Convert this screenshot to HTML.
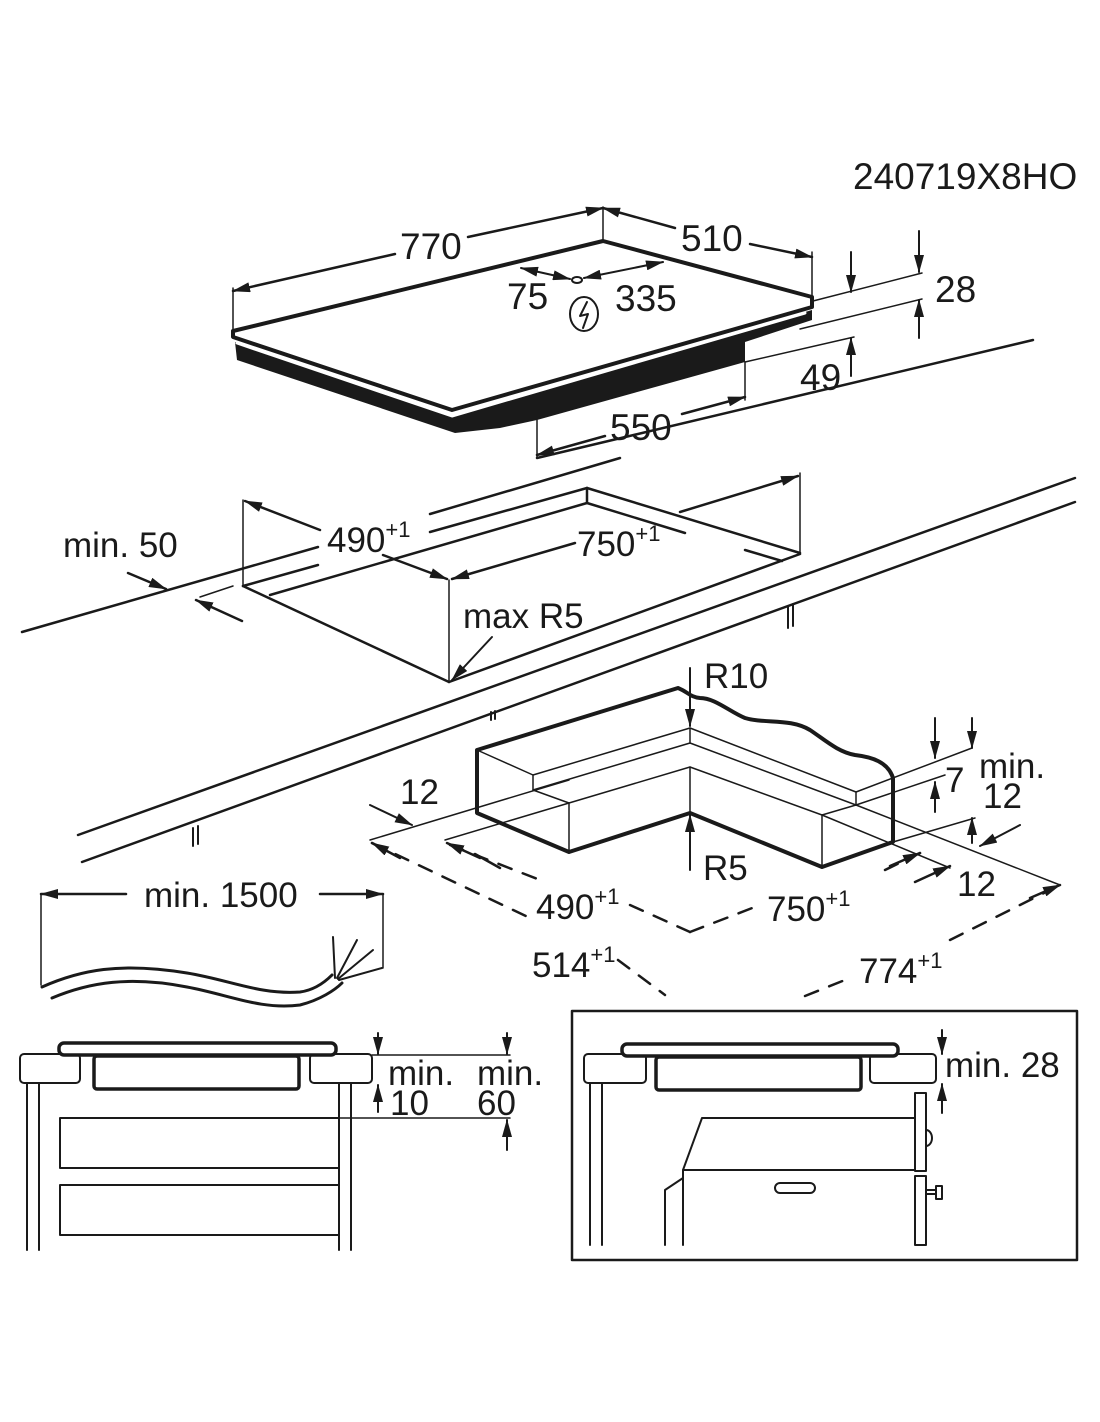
<!DOCTYPE html>
<html><head><meta charset="utf-8"><style>
html,body{margin:0;padding:0;background:#fff;}
svg{display:block;}
text{font-family:"Liberation Sans",sans-serif;fill:#1a1a1a;}
</style></head><body>
<svg width="1100" height="1422" viewBox="0 0 1100 1422" xmlns="http://www.w3.org/2000/svg">
<defs>
<marker id="a" viewBox="0 0 18 10" refX="17" refY="5" markerWidth="18" markerHeight="10" markerUnits="userSpaceOnUse" orient="auto-start-reverse"><path d="M0,0 L18,5 L0,10 z" fill="#1a1a1a"/></marker>
</defs>
<g stroke="#1a1a1a" fill="none" stroke-linecap="round" stroke-linejoin="round">

<polygon points="235,342 452,416 812,310 812,320 745,342 745,362 537,420 500,428 455,433 237,360" fill="#1a1a1a" stroke="none"/>
<polyline points="237,343 452,416 805,313" stroke="#fff" stroke-width="3"/>
<polygon points="603,241 812,297 812,307 452,410 233,337 233,331" fill="#fff" stroke-width="4"/>
<line x1="233" y1="333" x2="233" y2="288" stroke-width="1.5"/>
<line x1="603" y1="241" x2="603" y2="207" stroke-width="1.5"/>
<line x1="812" y1="297" x2="812" y2="252" stroke-width="1.5"/>
<line x1="233" y1="291" x2="395" y2="254" stroke-width="2.5" marker-start="url(#a)"/>
<line x1="468" y1="237" x2="603" y2="208" stroke-width="2.5" marker-end="url(#a)"/>
<line x1="603" y1="208" x2="675" y2="228" stroke-width="2.5" marker-start="url(#a)"/>
<line x1="750" y1="244" x2="812" y2="257" stroke-width="2.5" marker-end="url(#a)"/>
<ellipse cx="577" cy="280" rx="5" ry="3" stroke-width="2"/>
<line x1="521" y1="268" x2="570" y2="279" stroke-width="2" marker-start="url(#a)" marker-end="url(#a)"/>
<line x1="584" y1="278" x2="663" y2="262" stroke-width="2" marker-start="url(#a)" marker-end="url(#a)"/>
<ellipse cx="584" cy="314" rx="14" ry="17" stroke-width="2"/>
<polyline points="587,302 580,316 588,314 583,328" stroke-width="2"/>
<line x1="813" y1="301" x2="922" y2="273" stroke-width="1.5"/>
<line x1="800" y1="329" x2="922" y2="299" stroke-width="1.5"/>
<line x1="745" y1="362" x2="854" y2="337" stroke-width="1.5"/>
<line x1="851" y1="252" x2="851" y2="292" stroke-width="2" marker-end="url(#a)"/>
<line x1="919" y1="231" x2="919" y2="272" stroke-width="2" marker-end="url(#a)"/>
<line x1="919" y1="338" x2="919" y2="300" stroke-width="2" marker-end="url(#a)"/>
<line x1="851" y1="376" x2="851" y2="338" stroke-width="2" marker-end="url(#a)"/>
<line x1="537" y1="458" x2="1033" y2="340" stroke-width="2.5"/>
<line x1="537" y1="420" x2="537" y2="458" stroke-width="1.5"/>
<line x1="745" y1="362" x2="745" y2="400" stroke-width="1.5"/>
<line x1="537" y1="455" x2="605" y2="436" stroke-width="2.5" marker-start="url(#a)"/>
<line x1="682" y1="414" x2="745" y2="397" stroke-width="2.5" marker-end="url(#a)"/>

<line x1="22" y1="632" x2="318" y2="547" stroke-width="2.5"/>
<line x1="430" y1="514" x2="620" y2="458" stroke-width="2.5"/>
<line x1="243" y1="586" x2="318" y2="565" stroke-width="2.5"/>
<line x1="430" y1="532" x2="587" y2="488" stroke-width="2.5"/>
<line x1="270" y1="595" x2="587" y2="503" stroke-width="2.5"/>
<line x1="587" y1="488" x2="587" y2="503" stroke-width="2.5"/>
<line x1="587" y1="488" x2="800" y2="553" stroke-width="2.5"/>
<line x1="587" y1="503" x2="685" y2="533" stroke-width="2.5"/>
<line x1="745" y1="550" x2="782" y2="561" stroke-width="2.5"/>
<line x1="243" y1="586" x2="449" y2="682" stroke-width="2.5"/>
<line x1="449" y1="682" x2="800" y2="554" stroke-width="2.5"/>
<line x1="78" y1="835" x2="1075" y2="478" stroke-width="2.5"/>
<line x1="82" y1="862" x2="1075" y2="502" stroke-width="2.5"/>
<line x1="243" y1="500" x2="243" y2="586" stroke-width="1.5"/>
<line x1="449" y1="580" x2="449" y2="682" stroke-width="1.5"/>
<line x1="800" y1="473" x2="800" y2="553" stroke-width="1.5"/>
<line x1="320" y1="530" x2="245" y2="501" stroke-width="2.5" marker-end="url(#a)"/>
<line x1="383" y1="555" x2="447" y2="579" stroke-width="2.5" marker-end="url(#a)"/>
<line x1="575" y1="543" x2="452" y2="579" stroke-width="2.5" marker-end="url(#a)"/>
<line x1="680" y1="512" x2="798" y2="476" stroke-width="2.5" marker-end="url(#a)"/>
<line x1="128" y1="573" x2="166" y2="589" stroke-width="2.5" marker-end="url(#a)"/>
<line x1="242" y1="621" x2="196" y2="600" stroke-width="2.5" marker-end="url(#a)"/>
<line x1="233" y1="586" x2="200" y2="597" stroke-width="1.5"/>
<line x1="492" y1="637" x2="452" y2="680" stroke-width="2" marker-end="url(#a)"/>
<g stroke-width="2"><line x1="788" y1="606" x2="788" y2="628"/><line x1="793" y1="604" x2="793" y2="626"/>
<line x1="491" y1="712" x2="491" y2="720"/><line x1="495" y1="711" x2="495" y2="719"/>
<line x1="193" y1="828" x2="193" y2="846"/><line x1="198" y1="826" x2="198" y2="844"/></g>

<g stroke-width="1.5">
<polyline points="477,750 533,775 690,728 856,792 856,805"/>
<polyline points="533,775 533,790 569,803 690,767 822,815 856,805"/>
<polyline points="533,790 690,743 856,805"/>
<line x1="690" y1="728" x2="690" y2="743"/>
<line x1="569" y1="803" x2="569" y2="852"/>
<line x1="690" y1="767" x2="690" y2="813"/>
<line x1="822" y1="815" x2="822" y2="867"/>
<line x1="370" y1="840" x2="569" y2="780"/>
<line x1="445" y1="840" x2="569" y2="803"/>
<line x1="856" y1="792" x2="972" y2="748"/>
<line x1="856" y1="805" x2="945" y2="775"/>
<line x1="893" y1="842" x2="975" y2="818"/>
<line x1="856" y1="805" x2="1060" y2="885"/>
<line x1="822" y1="815" x2="950" y2="868"/>
</g>
<path d="M477,750 L678,688 C688,692 690,697 700,698 C715,698 730,712 745,718 C765,724 790,718 810,730 C825,740 838,752 855,755 C872,757 888,762 893,778 L893,842 L822,867 L690,813 L569,852 L477,813 Z" stroke-width="4"/>
<line x1="690" y1="668" x2="690" y2="726" stroke-width="2" marker-end="url(#a)"/>
<line x1="690" y1="870" x2="690" y2="815" stroke-width="2" marker-end="url(#a)"/>
<line x1="935" y1="718" x2="935" y2="758" stroke-width="2" marker-end="url(#a)"/>
<line x1="935" y1="812" x2="935" y2="782" stroke-width="2" marker-end="url(#a)"/>
<line x1="972" y1="718" x2="972" y2="748" stroke-width="2" marker-end="url(#a)"/>
<line x1="972" y1="843" x2="972" y2="818" stroke-width="2" marker-end="url(#a)"/>
<line x1="1020" y1="825" x2="980" y2="846" stroke-width="2" marker-end="url(#a)"/>
<line x1="370" y1="805" x2="412" y2="825" stroke-width="2" marker-end="url(#a)"/>
<g stroke-width="2.5" stroke-dasharray="14,12">
<line x1="372" y1="843" x2="530" y2="918"/>
<line x1="618" y1="960" x2="665" y2="995"/>
<line x1="450" y1="845" x2="540" y2="880"/>
<line x1="630" y1="905" x2="690" y2="932"/>
<line x1="690" y1="932" x2="760" y2="905"/>
<line x1="885" y1="870" x2="920" y2="853"/>
<line x1="805" y1="996" x2="845" y2="980"/>
<line x1="950" y1="940" x2="1060" y2="885"/>
</g>
<line x1="400" y1="858" x2="372" y2="843" stroke-width="2.5" marker-end="url(#a)"/>
<line x1="480" y1="858" x2="447" y2="843" stroke-width="2.5" marker-end="url(#a)"/>
<line x1="500" y1="868" x2="475" y2="854" stroke-width="2.5"/>
<line x1="890" y1="866" x2="920" y2="853" stroke-width="2.5" marker-end="url(#a)"/>
<line x1="915" y1="882" x2="950" y2="866" stroke-width="2.5" marker-end="url(#a)"/>
<line x1="1030" y1="898" x2="1060" y2="885" stroke-width="2.5" marker-end="url(#a)"/>

<line x1="41" y1="894" x2="41" y2="985" stroke-width="1.5"/>
<line x1="383" y1="894" x2="383" y2="968" stroke-width="1.5"/>
<line x1="41" y1="894" x2="126" y2="894" stroke-width="2.5" marker-start="url(#a)"/>
<line x1="320" y1="894" x2="383" y2="894" stroke-width="2.5" marker-end="url(#a)"/>
<path d="M42,987 C80,970 120,962 187,973 C230,980 260,995 300,992 C315,990 325,982 332,975" stroke-width="3"/>
<path d="M52,998 C90,982 130,976 187,987 C230,995 260,1010 300,1005 C320,1000 335,990 342,983" stroke-width="3"/>
<g stroke-width="2"><line x1="333" y1="937" x2="335" y2="978"/><line x1="357" y1="940" x2="337" y2="978"/><line x1="373" y1="950" x2="338" y2="979"/><line x1="382" y1="968" x2="339" y2="980"/></g>

<rect x="20" y="1054" width="60" height="29" rx="4" stroke-width="2"/>
<rect x="310" y="1054" width="62" height="29" rx="4" stroke-width="2"/>
<rect x="94" y="1056" width="205" height="33" rx="3" stroke-width="3.5" fill="#fff"/>
<rect x="59" y="1043" width="277" height="12" rx="5" stroke-width="3.5" fill="#fff"/>
<g stroke-width="2">
<line x1="27" y1="1083" x2="27" y2="1250"/><line x1="39" y1="1083" x2="39" y2="1250"/>
<line x1="339" y1="1083" x2="339" y2="1250"/><line x1="351" y1="1083" x2="351" y2="1250"/>
<polyline points="339,1118 60,1118 60,1168 339,1168"/>
<polyline points="339,1185 60,1185 60,1235 339,1235"/>
</g>
<line x1="372" y1="1055" x2="510" y2="1055" stroke-width="1.5"/>
<line x1="339" y1="1118" x2="510" y2="1118" stroke-width="1.5"/>
<line x1="378" y1="1033" x2="378" y2="1054" stroke-width="2" marker-end="url(#a)"/>
<line x1="378" y1="1112" x2="378" y2="1085" stroke-width="2" marker-end="url(#a)"/>
<line x1="507" y1="1033" x2="507" y2="1054" stroke-width="2" marker-end="url(#a)"/>
<line x1="507" y1="1150" x2="507" y2="1120" stroke-width="2" marker-end="url(#a)"/>

<rect x="572" y="1011" width="505" height="249" stroke-width="2.5"/>
<rect x="584" y="1054" width="62" height="29" rx="4" stroke-width="2"/>
<rect x="870" y="1054" width="66" height="29" rx="4" stroke-width="2"/>
<rect x="656" y="1057" width="205" height="33" rx="3" stroke-width="3.5" fill="#fff"/>
<rect x="622" y="1044" width="276" height="12" rx="5" stroke-width="3.5" fill="#fff"/>
<g stroke-width="2">
<line x1="590" y1="1083" x2="590" y2="1245"/><line x1="602" y1="1083" x2="602" y2="1245"/>
<polyline points="915,1118 702,1118 683,1170 915,1170"/>
<line x1="683" y1="1170" x2="683" y2="1245"/>
<polyline points="665,1245 665,1190 683,1178"/>
<rect x="915" y="1093" width="11" height="78"/>
<rect x="915" y="1176" width="11" height="69"/>
<path d="M926,1130 A6,8 0 0 1 926,1146"/>
<rect x="926" y="1190" width="10" height="4"/>
<rect x="936" y="1186" width="6" height="13"/>
<rect x="775" y="1183" width="40" height="10" rx="5"/>
</g>
<line x1="942" y1="1030" x2="942" y2="1054" stroke-width="2" marker-end="url(#a)"/>
<line x1="942" y1="1113" x2="942" y2="1084" stroke-width="2" marker-end="url(#a)"/>
</g>

<g font-size="37">
<text x="853" y="189">240719X8HO</text>
<text x="400" y="259">770</text>
<text x="681" y="251">510</text>
<text x="507" y="309">75</text>
<text x="615" y="311">335</text>
<text x="935" y="302">28</text>
<text x="800" y="390">49</text>
<text x="610" y="440">550</text>
</g>
<g font-size="35">
<text x="63" y="557">min. 50</text>
<text x="327" y="552">490<tspan font-size="22" dy="-15">+1</tspan></text>
<text x="577" y="556">750<tspan font-size="22" dy="-15">+1</tspan></text>
<text x="463" y="628">max R5</text>
<text x="704" y="688">R10</text>
<text x="400" y="804">12</text>
<text x="945" y="792">7</text>
<text x="979" y="778">min.</text>
<text x="983" y="808">12</text>
<text x="703" y="880">R5</text>
<text x="957" y="896">12</text>
<text x="536" y="919">490<tspan font-size="22" dy="-15">+1</tspan></text>
<text x="767" y="921">750<tspan font-size="22" dy="-15">+1</tspan></text>
<text x="532" y="977">514<tspan font-size="22" dy="-15">+1</tspan></text>
<text x="859" y="983">774<tspan font-size="22" dy="-15">+1</tspan></text>
<text x="144" y="907">min. 1500</text>
<text x="388" y="1085">min.</text>
<text x="390" y="1115">10</text>
<text x="477" y="1085">min.</text>
<text x="477" y="1115">60</text>
<text x="945" y="1077">min. 28</text>
</g>
</svg>
</body></html>
